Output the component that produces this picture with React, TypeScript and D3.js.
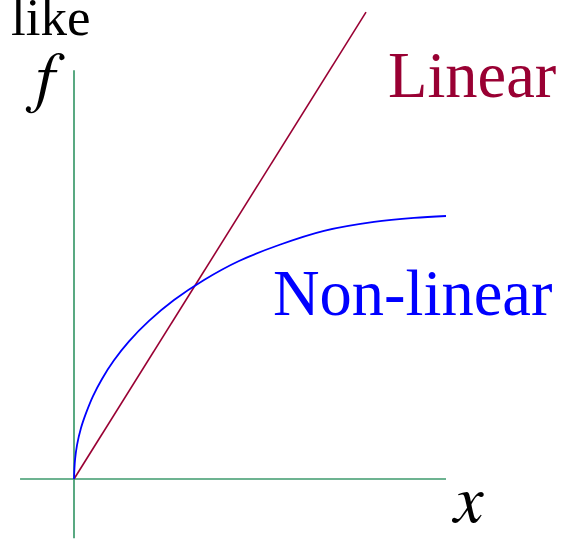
import React from "react";
import * as d3 from "d3";

// Data (in chart units; 1 unit equal on both axes)
const curveX = [0, 0.027, 0.081, 0.188, 0.323, 0.511, 0.753, 1.075, 1.478, 2.016, 2.688, 3.495, 4.435, 5.511, 6.72, 8.065, 9.14, 10];
const curveY = [0, 0.51, 0.91, 1.37, 1.77, 2.23, 2.69, 3.19, 3.70, 4.25, 4.81, 5.35, 5.86, 6.29, 6.67, 6.91, 7.02, 7.07];
const linearX = [0, 7.85];
const linearY = [0, 12.55];
const xAxisExtent = [-1.45, 10];
const yAxisExtent = [-1.59, 10.99];
const labels = { top: "like", yLabel: "f", xLabel: "x", linear: "Linear", nonLinear: "Non-linear" };

const W = 575;
const H = 540;

export default function App() {
  const x = d3.scaleLinear().domain([0, 10]).range([74, 446]);
  const y = d3.scaleLinear().domain([0, 10]).range([479, 107]);
  const curvePts: [number, number][] = curveX.map((v, i) => [v, curveY[i]]);
  const linPts: [number, number][] = linearX.map((v, i) => [v, linearY[i]]);
  const line = d3
    .line<[number, number]>()
    .x((d) => x(d[0]))
    .y((d) => y(d[1]))
    .curve(d3.curveCatmullRom.alpha(0.5));
  const lineStraight = d3
    .line<[number, number]>()
    .x((d) => x(d[0]))
    .y((d) => y(d[1]));
  const green = "#3c9a6c";
  const red = "#990033";
  const blue = "#0000ff";
  const font = "'Liberation Serif', 'Times New Roman', serif";
  const italicFont = "FreeSerif, 'Liberation Serif', serif";
  return (
    <svg
      width={W}
      height={H}
      style={{ position: "absolute", left: 0, top: 0, background: "#fff" }}
    >
      <line x1={x(xAxisExtent[0])} x2={x(xAxisExtent[1])} y1={y(0)} y2={y(0)} stroke={green} strokeWidth={1.7} />
      <line x1={x(0)} x2={x(0)} y1={y(yAxisExtent[0])} y2={y(yAxisExtent[1])} stroke={green} strokeWidth={1.7} />
      <path d={lineStraight(linPts) || ""} fill="none" stroke={red} strokeWidth={1.6} />
      <path d={line(curvePts) || ""} fill="none" stroke={blue} strokeWidth={1.8} />
      <text x={11} y={35} fontFamily={font} fontSize={53} fill="#000">{labels.top}</text>
      <text x={31} y={99} fontFamily={italicFont} fontStyle="italic" fontSize={68} fill="#000">{labels.yLabel}</text>
      <text x={454} y={522} fontFamily={italicFont} fontStyle="italic" fontSize={67} fill="#000">{labels.xLabel}</text>
      <text x={388} y={97} fontFamily={font} fontSize={64.5} fill={red}>{labels.linear}</text>
      <text x={273} y={315} fontFamily={font} fontSize={64.5} fill={blue}>{labels.nonLinear}</text>
    </svg>
  );
}
